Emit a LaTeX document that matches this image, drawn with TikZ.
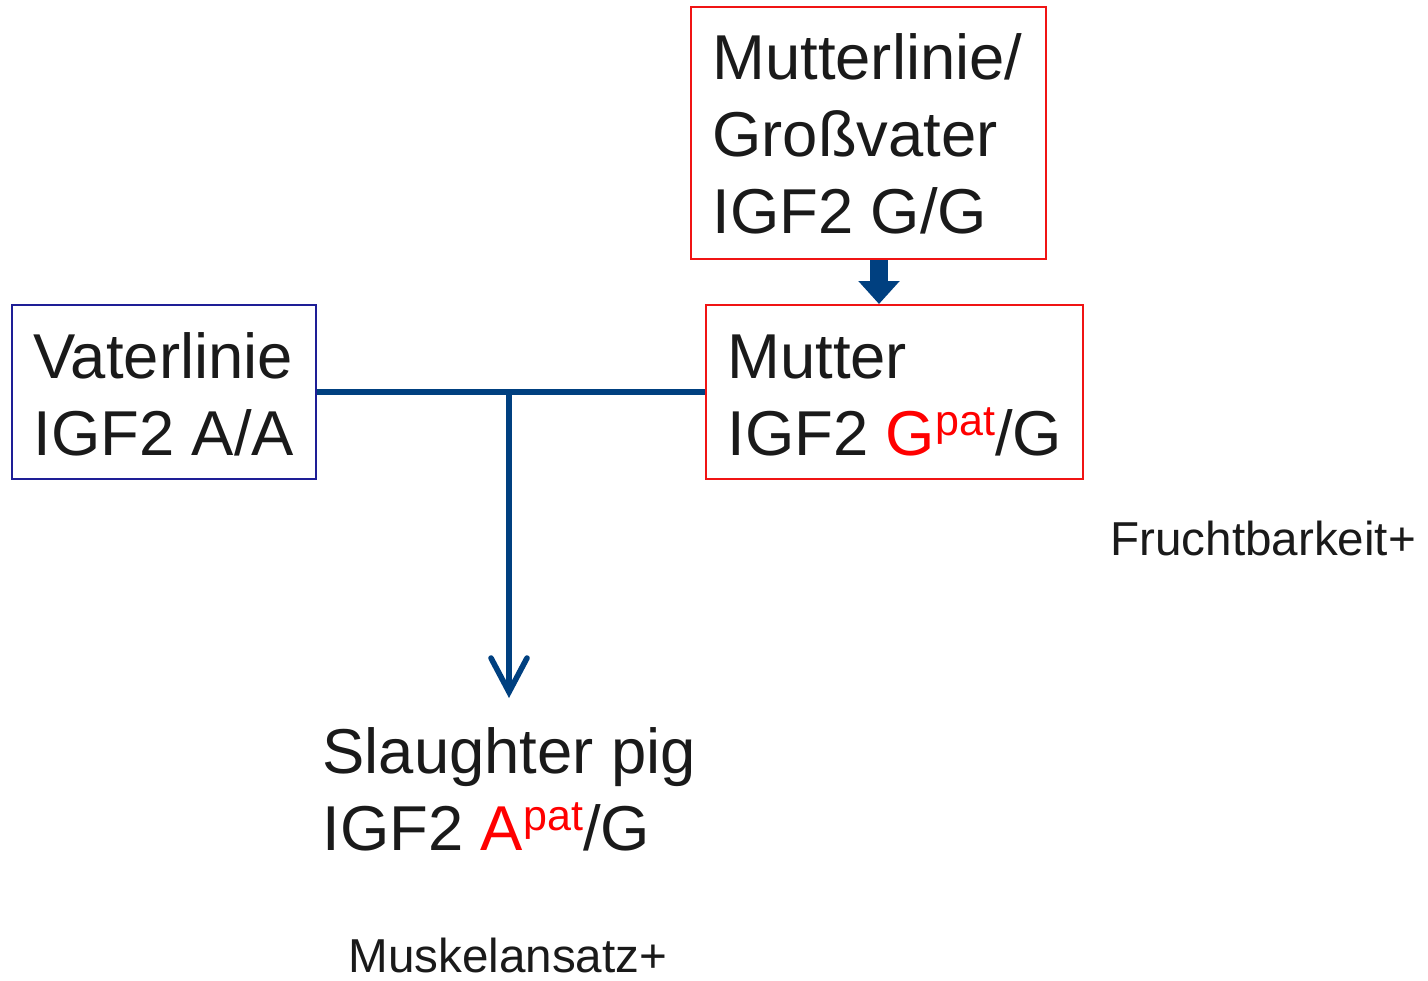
\documentclass[tikz,border=0pt]{standalone}
\usepackage{fontspec}
\setmainfont{Liberation Sans}
\usetikzlibrary{arrows.meta}

\definecolor{boxblue}{RGB}{30,30,150}
\definecolor{boxred}{RGB}{240,20,20}
\definecolor{linkblue}{RGB}{0,64,128}
\definecolor{txtgray}{RGB}{26,26,26}
\newcommand{\patallele}[1]{\textcolor{red}{#1\raisebox{10pt}{\fontsize{21.5}{21.5}\selectfont pat}}}

\begin{document}
\begin{tikzpicture}[x=0.5pt,y=-0.5pt,
        bigtext/.style={inner sep=0pt,anchor=base west,align=left,text=txtgray,font=\fontsize{31.7}{38.5}\selectfont},
        smalltext/.style={inner sep=0pt,anchor=base west,text=txtgray,font=\fontsize{23.8}{28}\selectfont},
        bluebox/.style={draw=boxblue,line width=1pt,inner sep=0pt},
        redbox/.style={draw=boxred,line width=1pt,inner sep=0pt},
        link/.style={draw=linkblue,line width=2.8pt}]
    \useasboundingbox (0,0) rectangle (1428,980);
    % boxes
    \node[bluebox,minimum width=152pt,minimum height=87pt] (vater) at (164,392) {};
    \node[redbox,minimum width=177.5pt,minimum height=126pt] (mutterlinie) at (868.5,133) {};
    \node[redbox,minimum width=188.5pt,minimum height=87pt] (mutter) at (894.5,392) {};
    % texts
    \node[bigtext] (vatertext) at (33,455) {Vaterlinie\\IGF2 A/A};
    \node[bigtext] (mutterlinietext) at (712,233) {Mutterlinie/\\Großvater\\IGF2 G/G};
    \node[bigtext] (muttertext) at (727,455) {Mutter\\IGF2 \patallele{G}/G};
    \node[bigtext] (pigtext) at (322,850) {Slaughter pig\\IGF2 \patallele{A}/G};
    \node[smalltext] (frucht) at (1110,555) {Fruchtbarkeit+};
    \node[smalltext] (muskel) at (348,972) {Muskelansatz+};
    % connectors
    \coordinate (split) at (509,392);
    \coordinate (pigtip) at (509,698);
    \draw[link] (vater.east) -- (mutter.west);
    \draw[link,-{Straight Barb[length=17pt,width=18pt,line cap=round]}] (split) -- (pigtip);
    \draw[draw=linkblue,line width=9pt,-{Triangle[length=11.5pt,width=20pt]}]
        ([xshift=5.25pt]mutterlinie.south) -- ([xshift=5.25pt]mutterlinie.south |- mutter.north);
\end{tikzpicture}
\end{document}
